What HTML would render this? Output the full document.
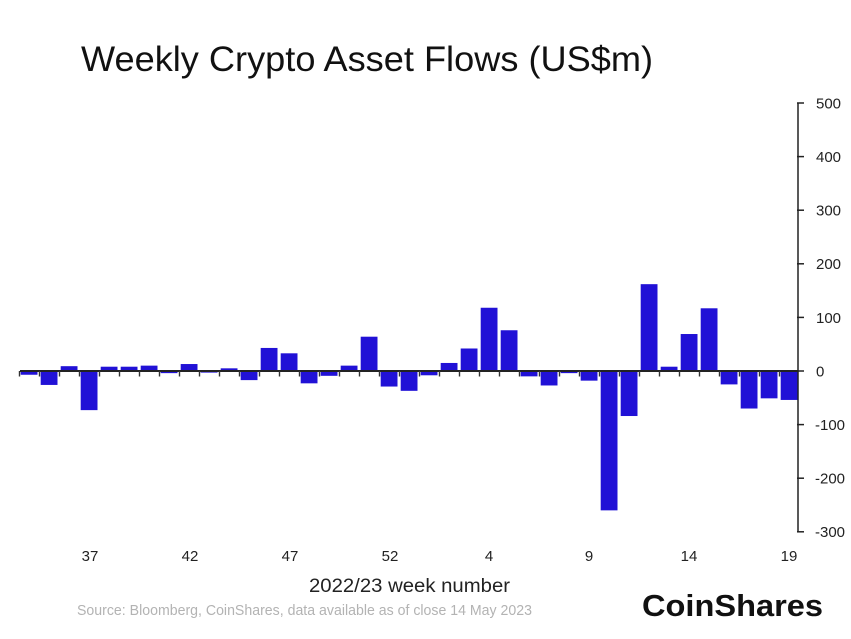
<!DOCTYPE html>
<html>
<head>
<meta charset="utf-8">
<style>
  html,body{margin:0;padding:0;background:#fff;}
  svg{display:block;}
  text{font-family:"Liberation Sans",Arial,sans-serif;}
</style>
</head>
<body>
<svg width="851" height="639" viewBox="0 0 851 639" xmlns="http://www.w3.org/2000/svg">
  <rect width="851" height="639" fill="#fff"/>
  <!-- Title -->
  <text x="81" y="71" font-size="35" fill="#111" textLength="572" lengthAdjust="spacingAndGlyphs">Weekly Crypto Asset Flows (US$m)</text>

  <!-- Bars -->
  <g fill="#2111d6">
    <rect x="20.7" y="371" width="16.8" height="3.75"/>
    <rect x="40.7" y="371" width="16.8" height="13.94"/>
    <rect x="60.7" y="366.18" width="16.8" height="4.82"/>
    <rect x="80.7" y="371" width="16.8" height="39.13"/>
    <rect x="100.7" y="366.71" width="16.8" height="4.29"/>
    <rect x="120.7" y="366.71" width="16.8" height="4.29"/>
    <rect x="140.7" y="365.64" width="16.8" height="5.36"/>
    <rect x="160.7" y="371" width="16.8" height="2.14"/>
    <rect x="180.7" y="364.03" width="16.8" height="6.97"/>
    <rect x="200.7" y="371" width="16.8" height="1.61"/>
    <rect x="220.7" y="368.32" width="16.8" height="2.68"/>
    <rect x="240.7" y="371" width="16.8" height="9.11"/>
    <rect x="260.7" y="347.95" width="16.8" height="23.05"/>
    <rect x="280.7" y="353.31" width="16.8" height="17.69"/>
    <rect x="300.7" y="371" width="16.8" height="12.33"/>
    <rect x="320.7" y="371" width="16.8" height="4.82"/>
    <rect x="340.7" y="365.64" width="16.8" height="5.36"/>
    <rect x="360.7" y="336.70" width="16.8" height="34.30"/>
    <rect x="380.7" y="371" width="16.8" height="15.54"/>
    <rect x="400.7" y="371" width="16.8" height="19.83"/>
    <rect x="420.7" y="371" width="16.8" height="4.29"/>
    <rect x="440.7" y="362.96" width="16.8" height="8.04"/>
    <rect x="460.7" y="348.49" width="16.8" height="22.51"/>
    <rect x="480.7" y="307.75" width="16.8" height="63.25"/>
    <rect x="500.7" y="330.26" width="16.8" height="40.74"/>
    <rect x="520.7" y="371" width="16.8" height="5.36"/>
    <rect x="540.7" y="371" width="16.8" height="14.47"/>
    <rect x="560.7" y="371" width="16.8" height="2.14"/>
    <rect x="580.7" y="371" width="16.8" height="9.65"/>
    <rect x="600.7" y="371" width="16.8" height="139.36"/>
    <rect x="620.7" y="371" width="16.8" height="45.02"/>
    <rect x="640.7" y="284.17" width="16.8" height="86.83"/>
    <rect x="660.7" y="366.71" width="16.8" height="4.29"/>
    <rect x="680.7" y="334.02" width="16.8" height="36.98"/>
    <rect x="700.7" y="308.29" width="16.8" height="62.71"/>
    <rect x="720.7" y="371" width="16.8" height="13.40"/>
    <rect x="740.7" y="371" width="16.8" height="37.52"/>
    <rect x="760.7" y="371" width="16.8" height="27.34"/>
    <rect x="780.7" y="371" width="16.8" height="28.94"/>
  </g>

  <!-- zero line -->
  <line x1="20" y1="371" x2="798" y2="371" stroke="#222" stroke-width="2"/>
  <path stroke="#333" stroke-width="1.4" fill="none" d="M19.5 371v5.5M39.5 371v5.5M59.5 371v5.5M79.5 371v5.5M99.5 371v5.5M119.5 371v5.5M139.5 371v5.5M159.5 371v5.5M179.5 371v5.5M199.5 371v5.5M219.5 371v5.5M239.5 371v5.5M259.5 371v5.5M279.5 371v5.5M299.5 371v5.5M319.5 371v5.5M339.5 371v5.5M359.5 371v5.5M379.5 371v5.5M399.5 371v5.5M419.5 371v5.5M439.5 371v5.5M459.5 371v5.5M479.5 371v5.5M499.5 371v5.5M519.5 371v5.5M539.5 371v5.5M559.5 371v5.5M579.5 371v5.5M599.5 371v5.5M619.5 371v5.5M639.5 371v5.5M659.5 371v5.5M679.5 371v5.5M699.5 371v5.5M719.5 371v5.5M739.5 371v5.5M759.5 371v5.5M779.5 371v5.5"/>

  <!-- y axis -->
  <line x1="798" y1="102.5" x2="798" y2="532.5" stroke="#222" stroke-width="1.5"/>
  <g stroke="#222" stroke-width="1.5">
    <line x1="797" y1="103" x2="804" y2="103"/>
    <line x1="797" y1="156.6" x2="804" y2="156.6"/>
    <line x1="797" y1="210.2" x2="804" y2="210.2"/>
    <line x1="797" y1="263.8" x2="804" y2="263.8"/>
    <line x1="797" y1="317.4" x2="804" y2="317.4"/>
    <line x1="797" y1="371" x2="804" y2="371"/>
    <line x1="797" y1="424.6" x2="804" y2="424.6"/>
    <line x1="797" y1="478.2" x2="804" y2="478.2"/>
    <line x1="797" y1="531.8" x2="804" y2="531.8"/>
  </g>
  <g font-size="15" fill="#222">
    <text x="816" y="108.5">500</text>
    <text x="816" y="162">400</text>
    <text x="816" y="215.6">300</text>
    <text x="816" y="269.2">200</text>
    <text x="816" y="322.8">100</text>
    <text x="816" y="376.4">0</text>
    <text x="815" y="430">-100</text>
    <text x="815" y="483.6">-200</text>
    <text x="815" y="537.2">-300</text>
  </g>

  <!-- x labels -->
  <g font-size="15" fill="#222" text-anchor="middle">
    <text x="90" y="561">37</text>
    <text x="190" y="561">42</text>
    <text x="290" y="561">47</text>
    <text x="390" y="561">52</text>
    <text x="489" y="561">4</text>
    <text x="589" y="561">9</text>
    <text x="689" y="561">14</text>
    <text x="789" y="561">19</text>
  </g>
  <text x="309" y="592" font-size="19" fill="#222" textLength="201" lengthAdjust="spacingAndGlyphs">2022/23 week number</text>
  <text x="77" y="615" font-size="14.5" fill="#b3b3b3" textLength="455" lengthAdjust="spacingAndGlyphs">Source: Bloomberg, CoinShares, data available as of close 14 May 2023</text>

  <!-- logo -->
  <text x="642" y="616" font-size="31" font-weight="bold" fill="#111" textLength="181" lengthAdjust="spacingAndGlyphs">CoinShares</text>
</svg>
</body>
</html>
